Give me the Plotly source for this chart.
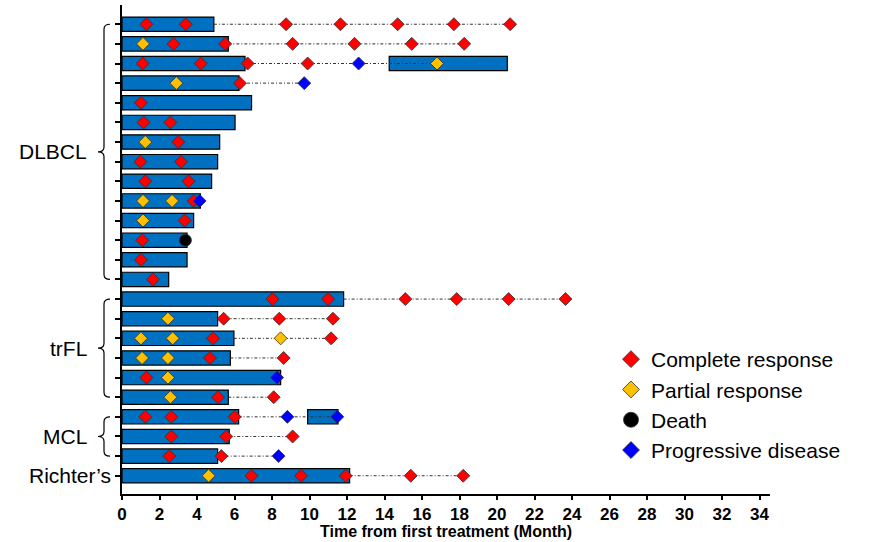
import plotly.graph_objects as go

# ---------------- data ----------------
groups = ["DLBCL"] * 14 + ["trFL"] * 6 + ["MCL"] * 3 + ["Richter\u2019s"]
group_names = ["DLBCL", "trFL", "MCL", "Richter\u2019s"]

# end of first treatment bar (months) for each patient row (top to bottom)
treatment_end = [4.9, 5.67, 6.56, 6.24, 6.91, 6.03, 5.21, 5.1, 4.78, 4.18, 3.82, 3.47,
                 3.47, 2.49, 11.82, 5.1, 5.97, 5.78, 8.46, 5.67, 6.22, 5.72, 5.1, 12.14]

# re-treatment bars
retreat_rows = [2, 20]
retreat_start = [14.25, 9.9]
retreat_end = [20.55, 11.52]

complete_response = {
    0: [1.3, 3.4, 8.75, 11.65, 14.7, 17.7, 20.7],
    1: [2.75, 5.5, 9.1, 12.4, 15.45, 18.25],
    2: [1.1, 4.2, 6.7, 9.9],
    3: [6.29],
    4: [1.01],
    5: [1.15, 2.58],
    6: [3.0],
    7: [0.98, 3.15],
    8: [1.24, 3.55],
    9: [3.82],
    10: [3.34],
    11: [1.08],
    12: [1.01],
    13: [1.65],
    14: [8.03, 10.99, 15.11, 17.85, 20.62, 23.65],
    15: [5.42, 8.39, 11.25],
    16: [4.85, 11.15],
    17: [4.69, 8.62],
    18: [1.3],
    19: [5.12, 8.09],
    20: [1.24, 2.63, 6.01],
    21: [2.63, 5.56, 9.1],
    22: [2.52, 5.3],
    23: [6.9, 9.55, 11.93, 15.4, 18.2],
}
partial_response = {
    1: [1.12], 2: [16.8], 3: [2.9], 6: [1.24], 9: [1.12, 2.67], 10: [1.12],
    15: [2.45], 16: [1.01, 2.7, 8.46], 17: [1.07, 2.45], 18: [2.45], 19: [2.58], 23: [4.62],
}
death = {11: [3.38]}
progressive_disease = {2: [12.62], 3: [9.72], 9: [4.14], 18: [8.27], 20: [8.82, 11.48], 22: [8.35]}

x_ticks = list(range(0, 35, 2))
x_title = "Time from first treatment (Month)"

# ---------------- styles ----------------
BAR = "#0070C0"
RED = "#FF0000"
GOLD = "#FFC000"
BLUE = "#0000FF"
FONT = "Liberation Sans, Arial, sans-serif"
L, R, T, B = 122, 111, 5, 48
W, H = 881, 542
PW = W - L - R
PH = H - T - B
X_MAX = PW / 18.75


def px2paper(px):
    return (px - L) / PW


def py2paper(py):
    return 1 - (py - T) / PH


def flatten(d):
    xs, ys = [], []
    for row, vals in d.items():
        for v in vals:
            xs.append(v)
            ys.append(row)
    return xs, ys


n = len(treatment_end)
rows = list(range(n))

fig = go.Figure()

# treatment bars
fig.add_trace(go.Bar(
    y=rows, x=treatment_end, base=[0] * n, orientation="h", width=0.73,
    marker=dict(color=BAR, line=dict(color="#000000", width=1.2)),
    showlegend=False, hoverinfo="skip"))
fig.add_trace(go.Bar(
    y=retreat_rows, x=[e - s for s, e in zip(retreat_start, retreat_end)],
    base=retreat_start, orientation="h", width=0.73,
    marker=dict(color=BAR, line=dict(color="#000000", width=1.2)),
    showlegend=False, hoverinfo="skip"))

# follow-up dotted lines
lx, ly = [], []
for r in rows:
    allv = (complete_response.get(r, []) + partial_response.get(r, []) +
            death.get(r, []) + progressive_disease.get(r, []))
    last = max(allv) if allv else 0
    if last > treatment_end[r]:
        lx += [treatment_end[r], last, None]
        ly += [r, r, None]
fig.add_trace(go.Scatter(x=lx, y=ly, mode="lines",
                         line=dict(color="#333333", width=1, dash="3px,2px,1px,2px"),
                         showlegend=False, hoverinfo="skip"))

# markers
series = [
    ("Complete response", complete_response, RED, "diamond", 10),
    ("Partial response", partial_response, GOLD, "diamond", 10),
    ("Death", death, "#000000", "circle", 12),
    ("Progressive disease", progressive_disease, BLUE, "diamond", 10),
]
for name, d, col, sym, sz in series:
    xs, ys = flatten(d)
    fig.add_trace(go.Scatter(
        x=xs, y=ys, mode="markers", name=name, showlegend=False, hoverinfo="skip",
        marker=dict(symbol=sym, size=sz, color=col, line=dict(color="#303030", width=0.8))))
# legend entries
for name, d, col, sym, sz in series:
    fig.add_trace(go.Scatter(
        x=[None], y=[None], mode="markers", name=name,
        marker=dict(symbol=sym, size=13 if sym == "diamond" else 15, color=col,
                    line=dict(color="#303030", width=0.8))))

# group braces and labels
xv, xh, xt = px2paper(104), px2paper(110), px2paper(98)
rad = 0.25
shapes = []
annotations = []
for g in group_names:
    idx = [i for i, gg in enumerate(groups) if gg == g]
    top, bot = min(idx), max(idx)
    mid = (top + bot) / 2
    if bot > top:
        path = (f"M {xh},{top} Q {xv},{top} {xv},{top + rad} L {xv},{mid - rad} "
                f"Q {xv},{mid} {xt},{mid} Q {xv},{mid} {xv},{mid + rad} "
                f"L {xv},{bot - rad} Q {xv},{bot} {xh},{bot}")
        shapes.append(dict(type="path", path=path, xref="paper", yref="y",
                           line=dict(color="#000000", width=1.2)))
        annotations.append(dict(x=px2paper(89), y=mid, xref="paper", yref="y", text=g,
                                showarrow=False, xanchor="right", yanchor="middle",
                                font=dict(family=FONT, size=21, color="#000000")))
    else:
        annotations.append(dict(x=px2paper(113), y=mid, xref="paper", yref="y", text=g,
                                showarrow=False, xanchor="right", yanchor="middle",
                                font=dict(family=FONT, size=21, color="#000000")))

# x-axis title
annotations.append(dict(x=0.5, y=py2paper(531), xref="paper", yref="paper",
                        text=f"<b>{x_title}</b>", showarrow=False,
                        xanchor="center", yanchor="middle",
                        font=dict(family=FONT, size=16, color="#000000")))

fig.update_layout(
    width=W, height=H,
    margin=dict(l=L, r=R, t=T, b=B, autoexpand=False),
    paper_bgcolor="white", plot_bgcolor="white",
    barmode="overlay",
    shapes=shapes, annotations=annotations,
    font=dict(family=FONT, color="#000000"),
    legend=dict(x=px2paper(611), y=py2paper(339), xanchor="left", yanchor="top",
                bgcolor="rgba(0,0,0,0)", font=dict(family=FONT, size=21, color="#000000"),
                itemwidth=30, tracegroupgap=0),
    xaxis=dict(range=[0, X_MAX], tickvals=x_ticks,
               ticktext=[f"<b>{v}</b>" for v in x_ticks], automargin=False,
               showline=True, linecolor="#000000", linewidth=1.5,
               ticks="outside", ticklen=4, tickwidth=1.5, tickcolor="#000000",
               showgrid=False, zeroline=False,
               tickfont=dict(family=FONT, size=17, color="#000000")),
    yaxis=dict(range=[23.93, -0.98], tickvals=rows, showticklabels=False, automargin=False,
               showline=True, linecolor="#000000", linewidth=1.5,
               ticks="outside", ticklen=5, tickwidth=1.5, tickcolor="#000000",
               showgrid=False, zeroline=False),
)

fig.write_html("out.html", config={"displayModeBar": False},
               post_script="document.body.style.margin='0px';document.body.style.overflow='hidden';")
